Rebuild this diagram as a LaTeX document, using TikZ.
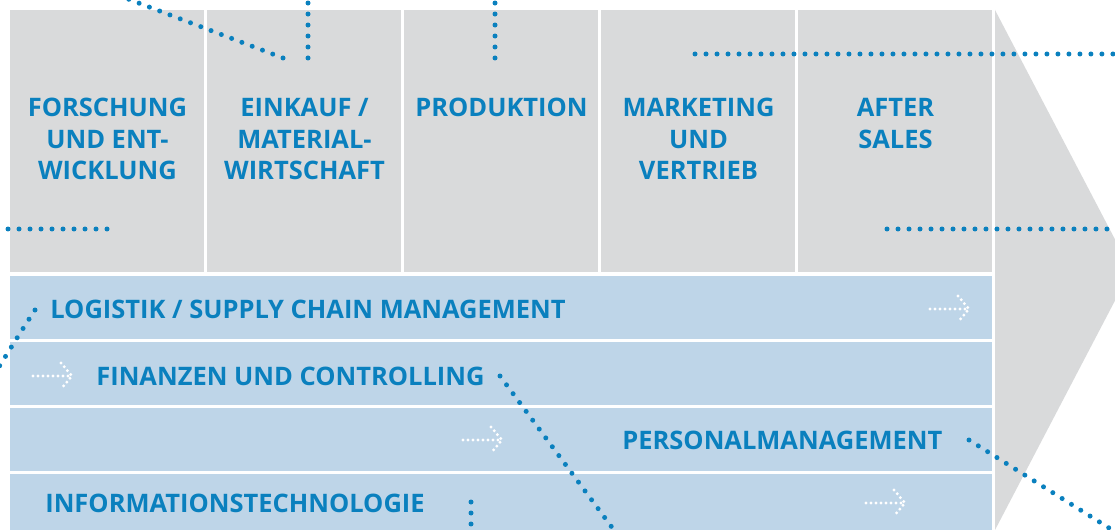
\documentclass[tikz,border=0pt]{standalone}
\usepackage{fontspec}
\setmainfont{Open Sans}
\usepackage{tikz}

\definecolor{chaingray}{HTML}{D9DADB}
\definecolor{rowblue}{HTML}{BED5E8}
\definecolor{chainblue}{HTML}{0A80BE}

\tikzset{
  stage/.style={fill=chaingray, inner sep=0pt, minimum width=3.88cm, minimum height=5.24cm},
  support/.style={fill=rowblue, inner sep=0pt, minimum width=19.64cm, minimum height=1.26cm},
  stagetext/.style={text=chainblue, inner sep=0pt, anchor=north, align=center,
    font=\bfseries\fontsize{14.5}{17.9}\selectfont},
  supporttext/.style={text=chainblue, inner sep=0pt, anchor=base west,
    font=\bfseries\fontsize{14.5}{17.9}\selectfont},
  bluedots/.style={chainblue, line width=0.1cm, line cap=round, dash pattern=on 0pt off 0.22cm},
  whitedots/.style={white, line width=0.065cm, line cap=round, dash pattern=on 0pt off 0.1cm}
}

\begin{document}
\begin{tikzpicture}[x=0.02cm, y=-0.02cm]
\useasboundingbox (0,0) rectangle (1115,530);
\clip (0,0) rectangle (1115,530);

\fill[chaingray] (995,10) -- (1131,270) -- (995,530) -- cycle;

\node[stage] (FE) at (107,141) {};
\node[stage] (EK) at (304,141) {};
\node[stage] (PR) at (501,141) {};
\node[stage] (MV) at (698,141) {};
\node[stage] (AS) at (895,141) {};

\node[stagetext] (FEt) at (107.5,98) {FORSCHUNG\\UND ENT-\\WICKLUNG};
\node[stagetext] (EKt) at (304.5,98) {EINKAUF /\\MATERIAL-\\WIRTSCHAFT};
\node[stagetext] (PRt) at (501.5,98) {PRODUKTION};
\node[stagetext] (MVt) at (698.5,98) {MARKETING\\UND\\VERTRIEB};
\node[stagetext] (ASt) at (895.5,98) {AFTER\\SALES};

\node[support] (LOG) at (501,307.5) {};
\node[support] (FIN) at (501,373.5) {};
\node[support] (PER) at (501,439.5) {};
\node[support] (IT) at (501,505.5) {};

\node[supporttext] (LOGt) at (50,318.5) {LOGISTIK / SUPPLY CHAIN MANAGEMENT};
\node[supporttext] (FINt) at (96,385.5) {FINANZEN UND CONTROLLING};
\node[supporttext] (PERt) at (622,449.5) {PERSONALMANAGEMENT};
\node[supporttext] (ITt) at (45,512.5) {INFORMATIONSTECHNOLOGIE};

\coordinate (LOGa) at (930,309);
\coordinate (FINa) at (33,376);
\coordinate (PERa) at (463,440);
\coordinate (ITa) at (866,503);
\foreach \a in {LOGa,FINa,PERa,ITa} {
  \draw[whitedots] (\a) -- ++(39,0);
  \draw[whitedots] ([shift={(28,-13)}]\a) -- ++(11,13) -- ++(-11,13);
}

\coordinate (p1) at (283,58);
\coordinate (q1) at (115,-6);
\coordinate (p2) at (308,58);
\coordinate (q2) at (308,-6);
\coordinate (p3) at (495,58);
\coordinate (q3) at (495,-6);
\coordinate (p4) at (695,54);
\coordinate (q4) at (1125,54);
\coordinate (p5) at (107,229);
\coordinate (q5) at (-8,229);
\coordinate (p6) at (887,229);
\coordinate (q6) at (1125,229);
\coordinate (p7) at (35,310);
\coordinate (q7) at (-8,378);
\coordinate (p8) at (500,376);
\coordinate (q8) at (625,545);
\coordinate (p9) at (969,440);
\coordinate (q9) at (1125,538);
\coordinate (p10) at (471,502);
\coordinate (q10) at (471,545);

\draw[bluedots] (p1) -- (q1);
\draw[bluedots] (p2) -- (q2);
\draw[bluedots] (p3) -- (q3);
\draw[bluedots] (p4) -- (q4);
\draw[bluedots] (p5) -- (q5);
\draw[bluedots] (p6) -- (q6);
\draw[bluedots] (p7) .. controls (22,330) .. (q7);
\draw[bluedots] (p8) -- (q8);
\draw[bluedots] (p9) -- (q9);
\draw[bluedots] (p10) -- (q10);
\end{tikzpicture}
\end{document}
